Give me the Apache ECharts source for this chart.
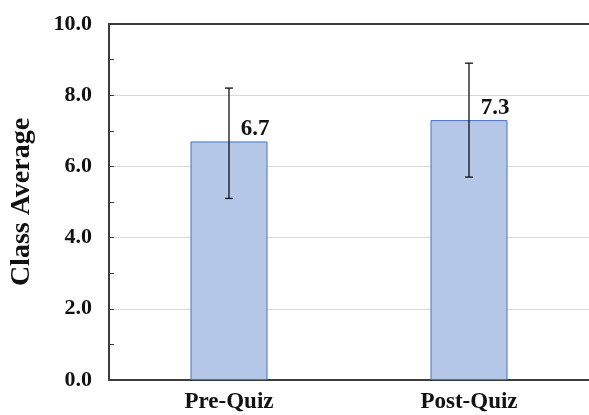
<!DOCTYPE html>
<html>
<head>
<meta charset="utf-8">
<script src="https://cdn.jsdelivr.net/npm/echarts@6/dist/echarts.min.js"></script>
<style>html,body{margin:0;padding:0;background:#fff}#c{width:589px;height:415px}</style>
</head>
<body>
<div id="c"></div>
<script>
var categories = ['Pre-Quiz', 'Post-Quiz'];
var averages = [6.7, 7.3];
var errLow = [5.1, 5.7];
var errHigh = [8.2, 8.9];
var yTicks = [0, 2, 4, 6, 8, 10];

var FONT = '"Liberation Serif", "Times New Roman", serif';
var chart = echarts.init(document.getElementById('c'));
var errData = categories.map(function (c, i) { return [i, errLow[i], errHigh[i]]; });

chart.setOption({
  animation: false,
  grid: { left: 105, top: 24, right: -4, bottom: 35, containLabel: false },
  xAxis: [{
    type: 'category', data: categories,
    axisLine: { lineStyle: { color: '#3c3c3c', width: 2 } },
    axisTick: { show: false },
    axisLabel: { color: '#111', fontFamily: FONT, fontWeight: 'bold', fontSize: 23, margin: 11 }
  }, {
    type: 'category', data: categories, position: 'top',
    axisLine: { show: true, lineStyle: { color: '#3c3c3c', width: 2 } },
    axisTick: { show: false }, axisLabel: { show: false }
  }],
  yAxis: {
    type: 'value', min: yTicks[0], max: yTicks[yTicks.length - 1], interval: 2,
    axisLine: { show: true, lineStyle: { color: '#3c3c3c', width: 2 } },
    axisTick: { show: true, inside: true, length: 5, lineStyle: { color: '#3c3c3c' } },
    minorTick: { show: true, splitNumber: 2, length: 5, lineStyle: { color: '#3c3c3c' } },
    splitLine: { show: true, lineStyle: { color: '#d9d9d9', width: 1 } },
    axisLabel: { color: '#111', fontFamily: FONT, fontWeight: 'bold', fontSize: 22, margin: 17,
      formatter: function (v) { return v.toFixed(1); } },
    name: 'Class Average', nameLocation: 'middle', nameGap: 73, nameRotate: 90,
    nameTextStyle: { color: '#111', fontFamily: FONT, fontWeight: 'bold', fontSize: 28 }
  },
  series: [{
    type: 'bar', data: averages, barWidth: 77,
    itemStyle: { color: '#b4c7e7', borderColor: '#4472c4', borderWidth: 1 },
    label: { show: true, position: 'top', offset: [26, 1], distance: 2,
      color: '#111', fontFamily: FONT, fontWeight: 'bold', fontSize: 23,
      formatter: function (p) { return p.value.toFixed(1); } }
  }, {
    type: 'custom', data: errData, z: 5,
    renderItem: function (params, api) {
      var lo = api.coord([api.value(0), api.value(1)]);
      var hi = api.coord([api.value(0), api.value(2)]);
      var w = 4;
      var st = { stroke: '#111', lineWidth: 1.3 };
      return { type: 'group', children: [
        { type: 'line', shape: { x1: hi[0], y1: hi[1], x2: lo[0], y2: lo[1] }, style: st },
        { type: 'line', shape: { x1: hi[0] - w, y1: hi[1], x2: hi[0] + w, y2: hi[1] }, style: st },
        { type: 'line', shape: { x1: lo[0] - w, y1: lo[1], x2: lo[0] + w, y2: lo[1] }, style: st }
      ]};
    }
  }]
});
</script>
</body>
</html>
